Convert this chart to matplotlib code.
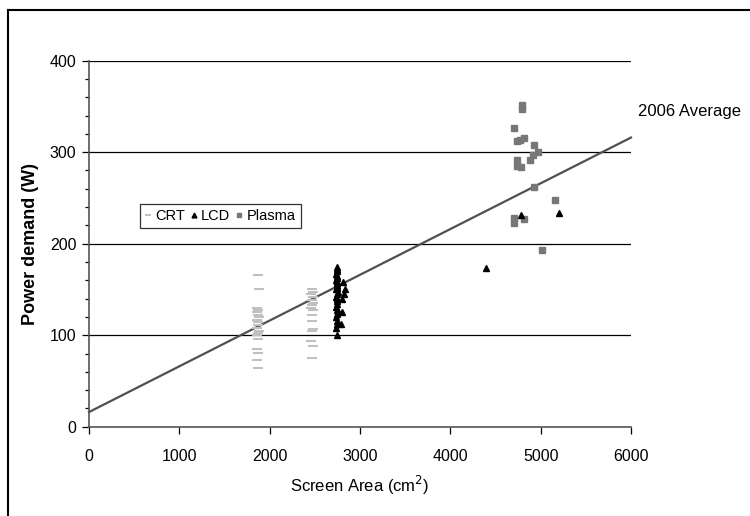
import matplotlib
matplotlib.use("Agg")
import matplotlib.pyplot as plt
from matplotlib.lines import Line2D
from matplotlib.ticker import MultipleLocator

plt.rcParams['font.family'] = ['Liberation Sans', 'DejaVu Sans']

# CRT
crt_x = [1870, 1880, 1865, 1875, 1860, 1870, 1885, 1865, 1870, 1875, 1860, 1880, 1870, 1865, 1875, 1860, 1870, 1865, 1870,
         2470, 2480, 2460, 2475, 2465, 2480, 2470, 2460, 2475, 2470, 2465, 2480, 2470, 2460, 2475, 2470]
crt_y = [166, 151, 130, 128, 125, 122, 120, 117, 114, 111, 108, 105, 102, 100, 96, 85, 81, 73, 64,
         151, 147, 145, 142, 138, 135, 133, 130, 128, 122, 115, 107, 105, 94, 88, 75]

# LCD
lcd_x = [2740, 2735, 2745, 2750, 2730, 2740, 2755, 2745, 2735, 2740, 2750, 2745, 2730, 2740, 2755, 2735,
         2745, 2740, 2750, 2735, 2745, 2740, 2730, 2745, 2740, 2750, 2745, 2740,
         2810, 2820, 2800, 2790, 2830, 2800, 4390, 4780, 5200]
lcd_y = [100, 108, 112, 116, 120, 123, 126, 128, 131, 134, 137, 140, 142, 145, 147, 150, 152, 155, 157,
         160, 162, 165, 167, 170, 172, 175, 158, 153,
         158, 145, 140, 112, 150, 125, 173, 231, 234]

# Plasma
plasma_x = [4790, 4790, 4700, 4735, 4775, 4820, 4925, 4965, 4920, 4880, 4735, 4735, 4780, 4925, 5160,
            4700, 4700, 4820, 5010]
plasma_y = [352, 347, 326, 312, 313, 315, 308, 300, 297, 292, 292, 285, 284, 262, 248,
            228, 223, 227, 193]

# 2006 Average trend line
avg_x = [0, 6000]
avg_y = [16, 316]

fig = plt.figure(figsize=(7.5, 5.16), dpi=100)
ax = fig.add_axes([89/750, 1-426.7/516, (631-89)/750, (426.7-60.7)/516])

for yv in [100, 200, 300, 400]:
    ax.axhline(yv, color='black', lw=0.9, zorder=1)

ax.plot(avg_x, avg_y, color='#505050', lw=1.6, zorder=2, clip_on=False)
ax.text(6080, 345, '2006 Average', fontsize=12, va='center', ha='left')

ax.plot(crt_x, crt_y, ls='none', marker='_', ms=6.5, mew=1.5, color='#c0c0c0', label='CRT', zorder=3)
ax.plot(lcd_x, lcd_y, ls='none', marker='^', ms=5, color='black', label='LCD', zorder=4)
ax.plot(plasma_x, plasma_y, ls='none', marker='s', ms=4.5, color='#777777', label='Plasma', zorder=3)

ax.set_xlim(0, 6000)
ax.set_ylim(0, 400)
ax.xaxis.set_major_locator(MultipleLocator(1000))
ax.yaxis.set_major_locator(MultipleLocator(100))
ax.yaxis.set_minor_locator(MultipleLocator(20))
ax.tick_params(axis='both', which='major', direction='out', length=5, width=0.9, labelsize=11.5)
ax.tick_params(axis='y', which='minor', direction='out', length=3, width=0.9)
ax.tick_params(axis='x', pad=11)
ax.tick_params(axis='y', pad=4)
for s in ['top', 'right']:
    ax.spines[s].set_visible(False)
for s in ['left', 'bottom']:
    ax.spines[s].set_color('#555555')
    ax.spines[s].set_linewidth(1.2)

ax.set_xlabel('Screen Area (cm$^2$)', fontsize=12, labelpad=7)
ax.set_ylabel('Power demand (W)', fontsize=13, fontweight='bold', labelpad=8)

leg = ax.legend(loc='upper left', bbox_to_anchor=((140-89)/542, 1-(204-60.7)/366), ncol=3,
                frameon=True, fancybox=False, fontsize=10.5, handlelength=0.4, handletextpad=0.3,
                columnspacing=0.4, borderpad=0.35, markerscale=0.7, borderaxespad=0)
leg.get_frame().set_edgecolor('black')
leg.get_frame().set_linewidth(0.9)

# figure border (partially cropped)
fig.add_artist(Line2D([8/750, 8/750], [0, 1-10/516], transform=fig.transFigure, color='black', lw=1.5))
fig.add_artist(Line2D([8/750, 1], [1-10/516, 1-10/516], transform=fig.transFigure, color='black', lw=1.5))

fig.savefig('out.png', dpi=100)
